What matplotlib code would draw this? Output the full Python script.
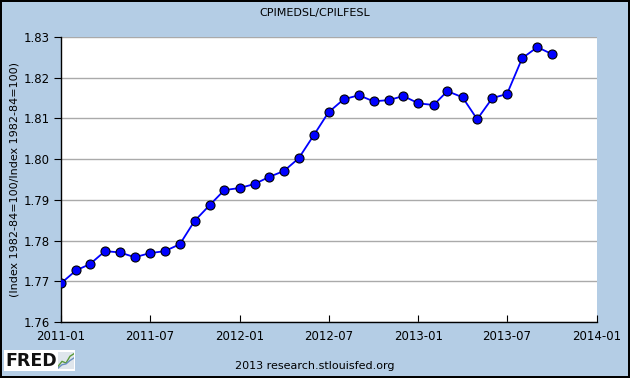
import matplotlib
matplotlib.use('Agg')
import matplotlib.pyplot as plt
import matplotlib.dates as mdates
from matplotlib.patches import Rectangle
import datetime as dt

# monthly ratio, 2011-01 .. 2013-10
ratio = [1.7695, 1.7727, 1.7742, 1.7774, 1.7771, 1.7759, 1.7769, 1.7774,
         1.7791, 1.7848, 1.7887, 1.7924, 1.7929, 1.7939, 1.7956, 1.7971,
         1.8002, 1.8059, 1.8115, 1.8147, 1.8157, 1.8142, 1.8145, 1.8155,
         1.8137, 1.8133, 1.8167, 1.8152, 1.8098, 1.8150, 1.8160, 1.8248,
         1.8275, 1.8258]
months = [dt.date(2011 + (i // 12), i % 12 + 1, 1) for i in range(len(ratio))]
xticks = [dt.date(2011, 1, 1), dt.date(2011, 7, 1), dt.date(2012, 1, 1),
          dt.date(2012, 7, 1), dt.date(2013, 1, 1), dt.date(2013, 7, 1),
          dt.date(2014, 1, 1)]
yticks = [1.76, 1.77, 1.78, 1.79, 1.80, 1.81, 1.82, 1.83]

bg = '#b4cde5'
fig = plt.figure(figsize=(6.3, 3.78), dpi=100, facecolor=bg,
                 edgecolor='black', linewidth=1.5)
ax = fig.add_axes([61/630, 56/378, 536/630, 285/378])
ax.set_facecolor('white')

ax.plot(months, ratio, color='#0000ff', lw=1.3, marker='o', ms=6.5,
        mfc='#0000ff', mec='black', mew=0.8, zorder=3)

ax.set_xlim(xticks[0], xticks[-1])
ax.set_ylim(1.76, 1.83)
ax.set_xticks(xticks)
ax.xaxis.set_major_formatter(mdates.DateFormatter('%Y-%m'))
ax.set_yticks(yticks)
ax.set_yticklabels(['%.2f' % v for v in yticks])
ax.yaxis.grid(True, color='#aaaaaa', lw=1)
ax.set_axisbelow(True)
for s in ['top', 'right']:
    ax.spines[s].set_visible(False)
ax.spines['left'].set_linewidth(1)
ax.spines['bottom'].set_linewidth(1)
ax.tick_params(axis='x', direction='in', length=5, labelsize=8.5, pad=6)
ax.tick_params(axis='y', direction='out', length=5, labelsize=8.5, pad=3)
ax.set_ylabel('(Index 1982-84=100/Index 1982-84=100)', fontsize=8, labelpad=3)

fig.text(0.5, 1 - 13/378, 'CPIMEDSL/CPILFESL', ha='center', va='center', fontsize=8)
fig.text(0.5, 1 - 366/378, '2013 research.stlouisfed.org', ha='center',
         va='center', fontsize=8)

# FRED logo box
fig.patches.append(Rectangle((4/630, 7/378), 71/630, 21/378,
                             transform=fig.transFigure, facecolor='white',
                             edgecolor='none', zorder=1))
fig.text(5/630, 1 - 361/378, 'FRED', ha='left', va='center', fontsize=12.5,
         fontweight='bold', color='#111111', zorder=2)
lax = fig.add_axes([58/630, 9/378, 16/630, 17/378], zorder=3)
lax.set_facecolor('#dfe6ec')
lax.plot([0, 1, 2, 3, 4], [0.15, 0.45, 0.35, 0.75, 0.9], color='#5a9a3a', lw=1)
lax.plot([0, 1, 2, 3, 4], [0.05, 0.25, 0.3, 0.5, 0.65], color='#6a8fc0', lw=1)
lax.set_xlim(0, 4)
lax.set_ylim(0, 1)
lax.set_xticks([])
lax.set_yticks([])
for s in lax.spines.values():
    s.set_visible(False)

fig.savefig('out.png', dpi=100, facecolor=bg, edgecolor='black')
